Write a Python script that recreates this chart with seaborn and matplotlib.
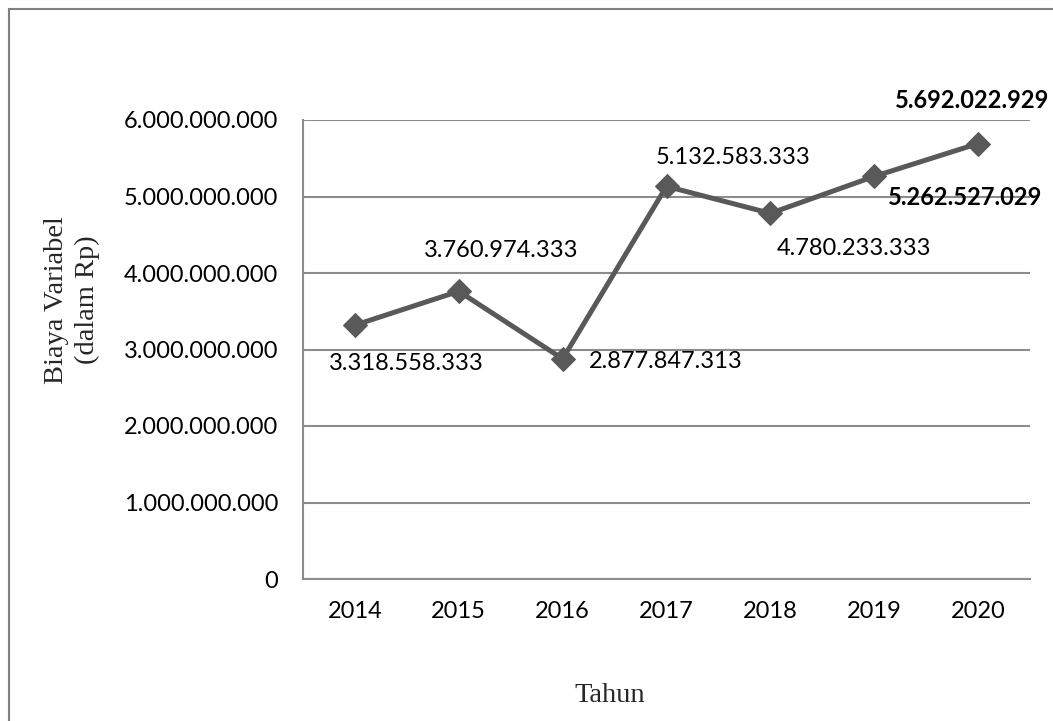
import matplotlib
matplotlib.use("Agg")
import matplotlib.pyplot as plt
from matplotlib.patches import Rectangle
import seaborn as sns
import pandas as pd

# Biaya variabel per tahun (Rp)
years = ["2014", "2015", "2016", "2017", "2018", "2019", "2020"]
values = [3318558333, 3760974333, 2877847313, 5132583333, 4780233333, 5262527029, 5692022929]
labels = ["3.318.558.333", "3.760.974.333", "2.877.847.313", "5.132.583.333",
          "4.780.233.333", "5.262.527.029", "5.692.022.929"]
bold_labels = [False, False, False, False, False, True, True]
# label offsets from each point, in pixels
label_offsets = [(51, -38), (42, 41), (103, -3), (67, 29), (84, -35), (91, -21), (-6, 43)]

y_ticks = [0, 1e9, 2e9, 3e9, 4e9, 5e9, 6e9]
y_tick_labels = ["0", "1.000.000.000", "2.000.000.000", "3.000.000.000",
                 "4.000.000.000", "5.000.000.000", "6.000.000.000"]

sns.set_style("white")
plt.rcParams["font.family"] = ["Lato", "DejaVu Sans"]

W, H = 1053, 721
fig = plt.figure(figsize=(W / 100, H / 100), dpi=100)
ax = fig.add_axes([303 / W, 1 - 579 / H, (1030 - 303) / W, (579 - 120) / H])

df = pd.DataFrame({"Tahun": years, "Biaya": values})
line_color = "#595959"
grid_color = "#8c8c8c"

sns.lineplot(data=df, x="Tahun", y="Biaya", ax=ax, color=line_color, linewidth=3.6,
             marker="D", markersize=12.5, markeredgecolor=line_color,
             markerfacecolor=line_color, sort=False)

ax.set_xlim(-0.5, len(years) - 0.5)
ax.set_ylim(0, 6e9)
ax.set_yticks(y_ticks)
ax.set_yticklabels(y_tick_labels)
ax.tick_params(axis="both", length=0, labelsize=17, colors="black")
ax.tick_params(axis="y", pad=18)
ax.tick_params(axis="x", pad=16)

ax.yaxis.grid(True, color=grid_color, linewidth=1.5)
ax.set_axisbelow(True)
for side in ["top", "right"]:
    ax.spines[side].set_visible(False)
for side in ["left", "bottom"]:
    ax.spines[side].set_color(grid_color)
    ax.spines[side].set_linewidth(1.5)

ax.set_xlabel("")
ax.set_ylabel("")

for i, (lab, val) in enumerate(zip(labels, values)):
    dx, dy = label_offsets[i]
    ax.annotate(lab, xy=(i, val), xytext=(dx, dy), textcoords="offset pixels",
                ha="center", va="center", fontsize=17,
                fontweight="bold" if bold_labels[i] else "normal", color="black")

serif = ["Liberation Serif", "DejaVu Serif"]
fig.text(610 / W, 1 - 695 / H, "Tahun", family=serif, fontsize=20.5,
         ha="center", va="center")
fig.text(72 / W, 1 - 300 / H, "Biaya Variabel\n(dalam Rp)", family=serif, fontsize=20.5,
         rotation=90, ha="center", va="center", linespacing=1.3, multialignment="center")

# chart frame
fig.add_artist(Rectangle((9 / W, -0.1), 1.2, 1 - 9 / H + 0.1, transform=fig.transFigure,
                         fill=False, edgecolor="#808080", linewidth=1.5))

fig.savefig("out.png", dpi=100)
